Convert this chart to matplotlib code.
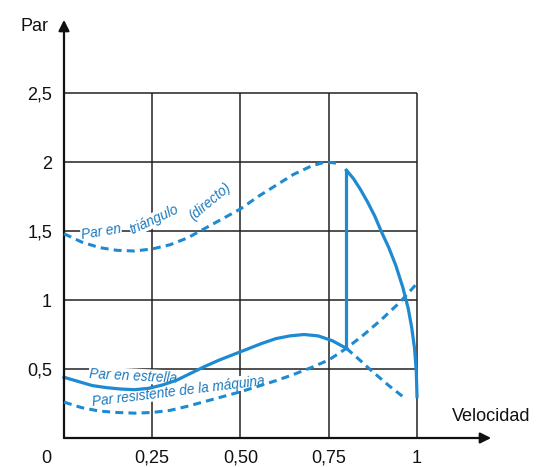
import matplotlib
matplotlib.use('Agg')
import matplotlib.pyplot as plt

# velocidad (p.u.) y par (p.u.)
x_tri = [0.00, 0.05, 0.10, 0.15, 0.20, 0.25, 0.30, 0.35, 0.40, 0.45, 0.50,
         0.55, 0.60, 0.65, 0.70, 0.74, 0.78]
par_tri = [1.48, 1.42, 1.38, 1.36, 1.355, 1.37, 1.40, 1.45, 1.52, 1.59, 1.66,
           1.75, 1.83, 1.91, 1.97, 2.00, 1.99]

x_tri_run = [0.80, 0.82, 0.84, 0.86, 0.88, 0.90, 0.92, 0.94, 0.96, 0.975,
             0.985, 0.993, 0.998, 1.00]
par_tri_run = [1.94, 1.88, 1.80, 1.71, 1.61, 1.49, 1.38, 1.25, 1.09, 0.94,
               0.80, 0.65, 0.48, 0.30]

x_est = [0.00, 0.04, 0.08, 0.12, 0.16, 0.20, 0.24, 0.28, 0.32, 0.36, 0.40,
         0.44, 0.48, 0.52, 0.56, 0.60, 0.64, 0.68, 0.72, 0.76, 0.80]
par_est = [0.44, 0.41, 0.38, 0.365, 0.355, 0.35, 0.36, 0.385, 0.42, 0.47, 0.52,
           0.565, 0.605, 0.645, 0.685, 0.72, 0.74, 0.75, 0.74, 0.705, 0.65]

x_est_fin = [0.80, 0.84, 0.87, 0.92, 0.96]
par_est_fin = [0.65, 0.56, 0.49, 0.38, 0.30]

x_res = [0.00, 0.05, 0.10, 0.15, 0.20, 0.25, 0.30, 0.35, 0.40, 0.45, 0.50,
         0.55, 0.60, 0.65, 0.70, 0.75, 0.80, 0.85, 0.90, 0.95, 1.00]
par_res = [0.26, 0.22, 0.195, 0.185, 0.18, 0.185, 0.20, 0.23, 0.265, 0.30, 0.335,
           0.375, 0.415, 0.46, 0.51, 0.565, 0.65, 0.75, 0.86, 0.98, 1.12]

x_ticks = [0.25, 0.50, 0.75, 1]
x_labels = ['0,25', '0,50', '0,75', '1']
y_ticks = [0.5, 1, 1.5, 2, 2.5]
y_labels = ['0,5', '1', '1,5', '2', '2,5']

azul = '#1e8ad2'
azul_txt = '#1a78bd'
rayas = (0, (2.6, 1.7))

plt.rcParams['font.family'] = ['Liberation Sans', 'DejaVu Sans']
fig = plt.figure(figsize=(5.53, 4.67), dpi=100)
ax = fig.add_axes([0.09658, 0.05323, 0.67664, 0.76535])
ax.set_xlim(-0.03, 1.03)
ax.set_ylim(-0.03, 2.56)
for s in ax.spines.values():
    s.set_visible(False)

# rejilla
ax.hlines(y_ticks, 0, 1, color='#222222', lw=1.1, zorder=1)
ax.vlines(x_ticks, 0, 2.5, color='#222222', lw=1.1, zorder=1)

ax.set_xticks(x_ticks)
ax.set_xticklabels(x_labels)
ax.set_yticks(y_ticks)
ax.set_yticklabels(y_labels)
ax.tick_params(length=0, labelsize=13, colors='#111111')
ax.tick_params(axis='x', pad=5.5)
ax.tick_params(axis='y', pad=1)
ax.annotate('0', xy=(0, 0), xytext=(-13, -15), textcoords='offset points',
            ha='center', va='center', fontsize=13, color='#111111')

# ejes con flecha
ax.annotate('', xy=(1.21, 0), xytext=(0, 0), annotation_clip=False,
            arrowprops=dict(arrowstyle='-|>', color='#111111', lw=1.6,
                            mutation_scale=16, shrinkA=0, shrinkB=0))
ax.annotate('', xy=(0, 3.03), xytext=(0, 0), annotation_clip=False,
            arrowprops=dict(arrowstyle='-|>', color='#111111', lw=1.6,
                            mutation_scale=16, shrinkA=0, shrinkB=0))
ax.text(1.21, 0.155, 'Velocidad', ha='center', va='center', fontsize=13,
        color='#111111', clip_on=False)
ax.text(-0.045, 2.98, 'Par', ha='right', va='center', fontsize=13,
        color='#111111', clip_on=False)

# curvas
ax.plot(x_est, par_est, color=azul, lw=2.3, zorder=2.5)
ax.plot(x_tri, par_tri, color=azul, lw=2.2, ls=rayas, zorder=3)
ax.plot(x_res, par_res, color=azul, lw=2.2, ls=rayas, zorder=3)
ax.plot(x_est_fin, par_est_fin, color=azul, lw=2.2, ls=rayas, zorder=3)
ax.plot([x_est[-1], x_tri_run[0]], [par_est[-1], par_tri_run[0]],
        color=azul, lw=2.3, zorder=4)
ax.plot(x_tri_run, par_tri_run, color=azul, lw=2.3, zorder=4)

# rotulos de las curvas
caja = dict(facecolor='white', edgecolor='none', pad=0.3)
estilo = dict(fontsize=9.8, style='italic', color=azul_txt, ha='center',
              va='center', bbox=caja, zorder=2.4)
ax.text(0.105, 1.495, 'Par en', rotation=9, **estilo)
ax.text(0.256, 1.582, 'triángulo', rotation=25, **estilo)
ax.text(0.414, 1.71, '(directo)', rotation=40, **estilo)
ax.text(0.196, 0.45, 'Par en estrella', rotation=-3, **estilo)
ax.text(0.323, 0.34, 'Par resistente de la máquina', rotation=7, **estilo)

fig.savefig('out.png', dpi=100)
